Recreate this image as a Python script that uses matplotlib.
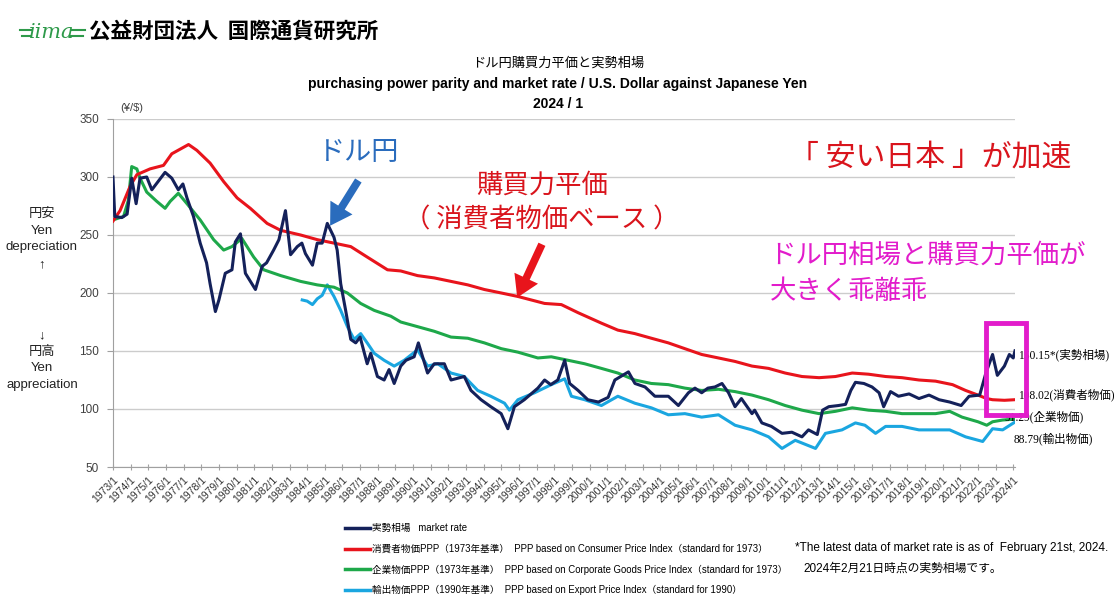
import matplotlib
matplotlib.use('Agg')
import matplotlib.pyplot as plt
from matplotlib.lines import Line2D
from matplotlib.patches import Rectangle

plt.rcParams['font.family'] = ['Liberation Sans', 'Noto Sans CJK JP', 'DejaVu Sans']

# ---- data (decimal year, yen per dollar) ----
mkt_t = [1973.0, 1973.1, 1973.5, 1973.8, 1974.06, 1974.31, 1974.53, 1974.91, 1975.2, 1975.4,
         1975.95, 1976.33, 1976.7, 1976.96, 1977.19, 1977.56, 1977.94, 1978.3, 1978.5, 1978.8,
         1979.0, 1979.36, 1979.74, 1979.93, 1980.22, 1980.5, 1981.07, 1981.45, 1981.7, 1982.1,
         1982.4, 1982.77, 1983.06, 1983.44, 1983.7, 1983.9, 1984.3, 1984.57, 1984.85, 1985.14,
         1985.52, 1985.7, 1985.9, 1986.18, 1986.47, 1986.75, 1987.0, 1987.4, 1987.6, 1987.98,
         1988.36, 1988.64, 1988.93, 1989.3, 1989.6, 1990.06, 1990.3, 1990.82, 1991.2, 1991.77,
         1992.15, 1992.9, 1993.28, 1993.85, 1994.4, 1994.99, 1995.37, 1995.74, 1996.3, 1997.07,
         1997.45, 1997.8, 1998.2, 1998.59, 1998.87, 1999.35, 1999.9, 2000.5, 2001.05, 2001.43,
         2002.2, 2002.57, 2003.14, 2003.7, 2004.46, 2005.03, 2005.6, 2005.97, 2006.35, 2006.7,
         2007.1, 2007.5, 2007.87, 2008.24, 2008.6, 2009.2, 2009.35, 2009.76, 2010.3, 2010.9,
         2011.46, 2012.03, 2012.4, 2012.9, 2013.2, 2013.55, 2014.1, 2014.5, 2014.8, 2015.06,
         2015.54, 2016.0, 2016.4, 2016.66, 2017.05, 2017.5, 2018.1, 2018.66, 2019.23, 2019.8,
         2020.4, 2021.05, 2021.5, 2022.1, 2022.45, 2022.83, 2023.1, 2023.5, 2023.78, 2024.0, 2024.1]
mkt_v = [300, 266, 265, 268, 299, 277, 299, 300, 289, 293,
         304, 299, 289, 294, 282, 266, 243, 226, 208, 184,
         194, 217, 220, 244, 251, 217, 203, 223, 226, 237,
         246, 271, 233, 240, 243, 234, 224, 243, 243, 260,
         248, 237, 208, 185, 160, 157, 162, 139, 148, 128,
         125, 134, 122, 137, 142, 145, 157, 131, 139, 139,
         125, 128, 116, 108, 102, 96, 83, 102, 108, 118,
         125, 121, 125, 142, 122, 116, 108, 106, 110, 125,
         132, 122, 119, 111, 111, 103, 114, 118, 114, 118,
         119, 122, 114, 102, 109, 96, 99, 88, 85, 79,
         80, 76, 82, 78, 99, 102, 103, 104, 116, 123,
         122, 119, 114, 102, 115, 111, 113, 109, 112, 108,
         106, 103, 111, 112, 131, 147, 129, 137, 147, 144, 150.15]

cpi_t = [1973.0, 1973.4, 1973.97, 1974.35, 1975.1, 1975.86, 1976.33, 1977.28, 1977.75, 1978.5,
         1979.27, 1980.03, 1980.78, 1981.73, 1982.5, 1983.63, 1984.57, 1985.52, 1986.47, 1987.4,
         1988.55, 1989.3, 1990.25, 1991.2, 1992.15, 1993.1, 1994.04, 1995.0, 1995.94, 1997.45,
         1998.4, 1999.35, 2000.67, 2001.6, 2002.56, 2003.5, 2004.46, 2005.4, 2006.35, 2007.3,
         2008.24, 2009.2, 2010.14, 2011.08, 2012.03, 2013.0, 2013.93, 2014.88, 2015.8, 2016.77,
         2017.7, 2018.66, 2019.6, 2020.56, 2021.3, 2022.0, 2022.5, 2022.83, 2023.5, 2024.1]
cpi_v = [262, 271, 292, 302, 307, 310, 320, 328, 323, 312,
         296, 282, 273, 260, 254, 250, 246, 243, 240, 231,
         220, 219, 215, 213, 210, 207, 203, 200, 197, 191,
         190, 183, 174, 168, 165, 161, 157, 152, 147, 144,
         141, 137, 135, 131, 128, 127, 128, 131, 130, 128,
         127, 125, 124, 121, 116, 112, 109, 108, 107.5, 108.02]

cgpi_t = [1973.0, 1973.6, 1973.87, 1974.06, 1974.35, 1974.53, 1974.91, 1975.48, 1975.95, 1976.24,
          1976.7, 1977.19, 1977.94, 1978.7, 1979.27, 1979.74, 1980.3, 1980.97, 1981.54, 1982.5,
          1983.63, 1984.57, 1985.52, 1986.28, 1987.03, 1987.8, 1988.74, 1989.3, 1990.25, 1991.2,
          1992.15, 1993.1, 1994.04, 1995.0, 1995.94, 1997.07, 1997.83, 1998.78, 1999.72, 2000.67,
          2001.6, 2002.56, 2003.5, 2004.46, 2005.4, 2006.35, 2007.3, 2008.24, 2009.2, 2010.14,
          2011.08, 2012.03, 2013.0, 2013.93, 2014.88, 2015.8, 2016.77, 2017.7, 2018.66, 2019.6,
          2020.4, 2021.1, 2022.0, 2022.5, 2022.83, 2023.4, 2024.1]
cgpi_v = [263, 266, 280, 309, 307, 299, 287, 279, 273, 279,
          286, 277, 263, 246, 237, 240, 247, 231, 220, 215,
          210, 207, 205, 200, 191, 185, 180, 175, 171, 167,
          162, 161, 157, 152, 149, 144, 145, 142, 139, 135,
          131, 125, 122, 121, 118, 116, 117, 115, 112, 108,
          103, 99, 96, 98, 101, 99, 98, 96, 96, 96,
          98, 93, 89, 86, 89, 90.5, 91.29]

epi_t = [1983.72, 1984.0, 1984.3, 1984.57, 1984.85, 1985.14, 1985.52, 1985.9, 1986.28, 1986.66,
         1987.03, 1987.4, 1987.8, 1988.36, 1988.93, 1989.5, 1990.25, 1990.82, 1991.4, 1992.15,
         1992.9, 1993.66, 1994.4, 1995.18, 1995.46, 1995.94, 1996.88, 1997.83, 1998.59, 1998.97,
         1999.72, 2000.67, 2001.6, 2002.56, 2003.5, 2004.46, 2005.4, 2006.35, 2007.3, 2008.24,
         2009.2, 2010.14, 2010.9, 2011.65, 2012.8, 2013.36, 2014.3, 2015.06, 2015.6, 2016.2,
         2016.77, 2017.7, 2018.66, 2019.6, 2020.4, 2021.3, 2022.27, 2022.83, 2023.4, 2024.1]
epi_v = [194, 193, 190, 195, 198, 207, 197, 185, 171, 160,
         165, 157, 148, 142, 137, 142, 151, 137, 139, 131,
         128, 116, 111, 105, 99, 108, 114, 121, 126, 111,
         108, 103, 111, 105, 101, 95, 96, 93, 95, 86,
         82, 76, 66, 73, 66, 79, 82, 88, 86, 79,
         85, 85, 82, 82, 82, 76, 72, 83, 82, 88.79]

years = list(range(1973, 2025))
year_labels = [f'{y}/1' for y in years]

navy = '#14215a'
red = '#e8141c'
green = '#1ea84a'
cyan = '#1aa6e0'
magenta = '#e21ccb'

W, H = 1119, 601
def fx(x):
    return x / W
def fy(y):
    return 1 - y / H

fig = plt.figure(figsize=(W / 100, H / 100), dpi=100)
ax = fig.add_axes([fx(113), fy(467), fx(1015) - fx(113), fy(119) - fy(467)])

ax.plot(epi_t, epi_v, color=cyan, lw=2.2, zorder=3)
ax.plot(cgpi_t, cgpi_v, color=green, lw=2.2, zorder=3)
ax.plot(cpi_t, cpi_v, color=red, lw=2.2, zorder=3)
ax.plot(mkt_t, mkt_v, color=navy, lw=2.2, zorder=4)

ax.set_xlim(1973, 2024.1)
ax.set_ylim(50, 350)
ax.set_yticks(range(50, 351, 50))
ax.set_xticks(years)
ax.set_xticklabels(year_labels, rotation=45, ha='right', va='top',
                   rotation_mode='anchor', fontsize=7.5, color='#333333')
ax.tick_params(axis='x', direction='inout', length=5, color='#a0a0a0', pad=3)
ax.tick_params(axis='y', direction='out', length=4, color='#a0a0a0',
               labelsize=8.5, labelcolor='#404040', pad=6)
ax.yaxis.grid(True, color='#cccccc', lw=1.0)
ax.set_axisbelow(True)
for s in ['top', 'right']:
    ax.spines[s].set_visible(False)
for s in ['left', 'bottom']:
    ax.spines[s].set_color('#a0a0a0')

# header
logo_green = '#2e9a4a'
fig.text(fx(29), fy(32), 'iima', color=logo_green, fontsize=15, style='italic',
         family='DejaVu Serif', va='center')
fig.add_artist(Line2D([fx(20), fx(31)], [fy(30), fy(30)], color=logo_green, lw=1.5))
fig.add_artist(Line2D([fx(22), fx(31)], [fy(36), fy(36)], color=logo_green, lw=1.5))
fig.add_artist(Line2D([fx(71), fx(85)], [fy(30), fy(30)], color=logo_green, lw=1.5))
fig.add_artist(Line2D([fx(71), fx(83)], [fy(36), fy(36)], color=logo_green, lw=1.5))
fig.text(fx(89), fy(31), '公益財団法人  国際通貨研究所', fontsize=15.5, weight='bold',
         family='Noto Sans CJK JP', va='center')

fig.text(fx(558), fy(63), 'ドル円購買力平価と実勢相場', fontsize=9.5, ha='center', va='center',
         family='Noto Sans CJK JP')
fig.text(fx(558), fy(84), 'purchasing power parity and market rate / U.S. Dollar against Japanese Yen',
         fontsize=10, weight='bold', ha='center', va='center')
fig.text(fx(558), fy(104), '2024 / 1', fontsize=10, weight='bold', ha='center', va='center')
fig.text(fx(120), fy(108), '(¥/$)', fontsize=8, color='#404040', va='center')

fig.text(fx(42), fy(239), '円安\nYen\ndepreciation\n↑', fontsize=9.5, ha='center', va='center',
         linespacing=1.5, color='#222222')
fig.text(fx(42), fy(360), '↓\n円高\nYen\nappreciation', fontsize=9.5, ha='center', va='center',
         linespacing=1.5, color='#222222')

# annotations
arrow_style = 'simple,head_width=1.7,head_length=1.4,tail_width=0.5'
ax.text(1986.9, 321, 'ドル円', color='#2a6cbd', fontsize=19.5, ha='center', va='center',
        family='Noto Sans CJK JP')
ax.annotate('', xy=(1985.3, 258), xytext=(1986.9, 297),
            arrowprops=dict(arrowstyle=arrow_style, color='#2a6cbd', lw=0,
                            mutation_scale=11, shrinkA=0, shrinkB=0))
ax.text(1997.3, 293, '購買力平価', color='#d9141c', fontsize=19, ha='center', va='center',
        family='Noto Sans CJK JP')
ax.text(1997.3, 263, '（ 消費者物価ベース ）', color='#d9141c', fontsize=19, ha='center',
        va='center', family='Noto Sans CJK JP')
ax.annotate('', xy=(1995.9, 196), xytext=(1997.3, 242),
            arrowprops=dict(arrowstyle=arrow_style, color='#e8141c', lw=0,
                            mutation_scale=11, shrinkA=0, shrinkB=0))
ax.text(2019.3, 317, '「 安い日本 」が加速', color='#d9141c', fontsize=21.5, ha='center',
        va='center', family='Noto Sans CJK JP')
ax.text(2010.2, 233, 'ドル円相場と購買力平価が', color=magenta, fontsize=19, ha='left',
        va='center', family='Noto Sans CJK JP', clip_on=False)
ax.text(2010.2, 201, '大きく乖離乖', color=magenta, fontsize=19, ha='left',
        va='center', family='Noto Sans CJK JP')

serif = ['Liberation Serif', 'Noto Sans CJK JP']
ax.text(2024.3, 146.5, '150.15*(実勢相場)', fontsize=8.3, family=serif, va='center', clip_on=False)
ax.text(2024.3, 112, '108.02(消費者物価)', fontsize=8.3, family=serif, va='center', clip_on=False)
ax.text(2023.5, 93, '91.29(企業物価)', fontsize=8.3, family=serif, va='center', clip_on=False)
ax.text(2024.0, 74, '88.79(輸出物価)', fontsize=8.3, family=serif, va='center', clip_on=False)
ax.add_patch(Rectangle((2022.45, 95), 2.25, 79, fill=False, ec=magenta, lw=3.5,
                       clip_on=False, zorder=6))

# legend
leg_rows = [
    (navy, '実勢相場   market rate'),
    (red, '消費者物価PPP（1973年基準）  PPP based on Consumer Price Index（standard for 1973）'),
    (green, '企業物価PPP（1973年基準）  PPP based on Corporate Goods Price Index（standard for 1973）'),
    (cyan, '輸出物価PPP（1990年基準）  PPP based on Export Price Index（standard for 1990）'),
]
for i, (c, label) in enumerate(leg_rows):
    y = 528 + i * 20.7
    fig.add_artist(Line2D([fx(345), fx(370)], [fy(y), fy(y)], color=c, lw=2.5))
    fig.text(fx(372), fy(y), label, fontsize=6.9, va='center')

fig.text(fx(795), fy(548), '*The latest data of market rate is as of  February 21st, 2024.',
         fontsize=8.5, va='center')
fig.text(fx(803), fy(569), '2024年2月21日時点の実勢相場です。', fontsize=8.5, va='center')

fig.savefig('out.png', dpi=100)
